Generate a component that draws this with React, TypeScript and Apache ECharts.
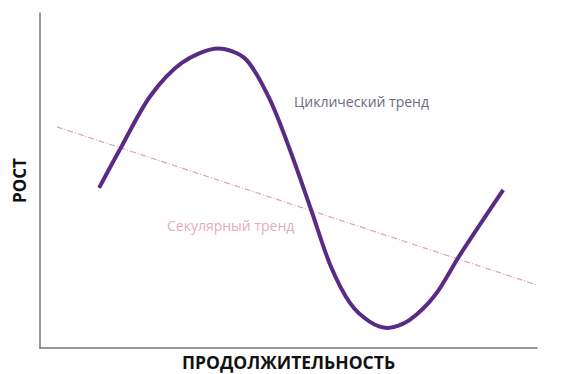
import React, { useEffect, useRef } from "react";
import * as echarts from "echarts";

const cyclicX = [11.9, 16.1, 22.1, 28.6, 35.9, 41.4, 46.3, 50.3, 54.7, 58.4, 62.4, 66.4, 70.0, 74.4, 79.5, 84.5, 93.2];
const cyclicY = [47.8, 59.3, 75.0, 85.2, 89.4, 86.2, 74.0, 59.1, 40.6, 24.8, 13.4, 7.8, 6.0, 8.4, 15.8, 27.8, 47.2];
const secularX = [3.4, 100];
const secularY = [66, 18.8];
const labels = {
  cyclic: "Циклический тренд",
  secular: "Секулярный тренд",
  x: "ПРОДОЛЖИТЕЛЬНОСТЬ",
  y: "РОСТ",
};

export default function App() {
  const ref = useRef<HTMLDivElement>(null);
  useEffect(() => {
    const chart = echarts.init(ref.current!, null, { renderer: "svg" });
    chart.setOption({
      animation: false,
      grid: { left: 40, right: 31, top: 13, bottom: 26, outerBoundsMode: "none", containLabel: false },
      xAxis: {
        type: "value",
        min: 0,
        max: 100,
        name: labels.x,
        nameLocation: "middle",
        nameGap: 4,
        nameTextStyle: { fontFamily: "Open Sans", fontWeight: "bold", fontSize: 17.5, color: "#111", lineHeight: 20 },
        axisLine: { show: true, lineStyle: { color: "#777", width: 1.5 } },
        axisTick: { show: false },
        axisLabel: { show: false },
        splitLine: { show: false },
      },
      yAxis: {
        type: "value",
        min: 0,
        max: 100,
        name: labels.y,
        nameLocation: "middle",
        nameGap: 12,
        nameRotate: 90,
        nameTextStyle: { fontFamily: "Open Sans", fontWeight: "bold", fontSize: 17, color: "#111" },
        axisLine: { show: true, lineStyle: { color: "#777", width: 1.5 } },
        axisTick: { show: false },
        axisLabel: { show: false },
        splitLine: { show: false },
      },
      series: [
        {
          type: "line",
          data: secularX.map((x, i) => [x, secularY[i]]),
          symbol: "none",
          lineStyle: { color: "#d8a5b5", width: 1.2, type: [6, 2, 1, 2] },
        },
        {
          type: "line",
          data: cyclicX.map((x, i) => [x, cyclicY[i]]),
          symbol: "none",
          smooth: 0.3,
          lineStyle: { color: "#5a2a85", width: 4 },
        },
      ],
      graphic: [
        {
          type: "text",
          left: 294,
          top: 94,
          style: { text: labels.cyclic, fontFamily: "Open Sans", fontSize: 14, fill: "#6b6b7b" },
        },
        {
          type: "text",
          left: 167,
          top: 218,
          style: { text: labels.secular, fontFamily: "Open Sans", fontSize: 14, fill: "#e3adbd" },
        },
      ],
    });
    return () => chart.dispose();
  }, []);
  return <div ref={ref} style={{ width: 568, height: 374, position: "absolute", left: 0, top: 0, background: "#fff" }} />;
}
